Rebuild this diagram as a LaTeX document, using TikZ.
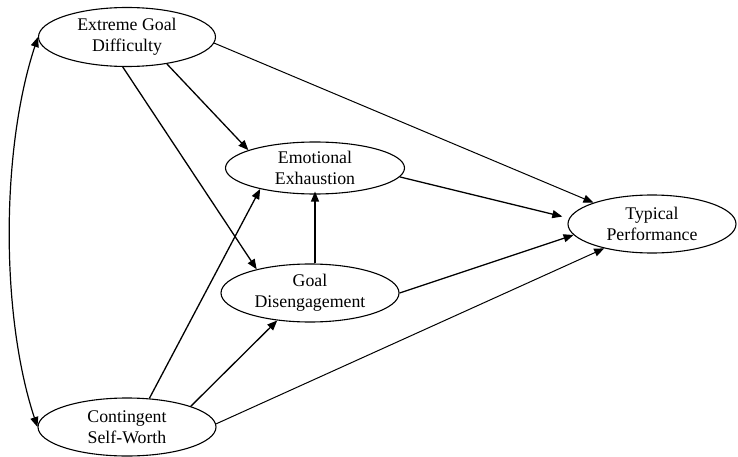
\documentclass[tikz,border=0pt]{standalone}
\usepackage{fontspec}
\setmainfont{Liberation Serif}
\usetikzlibrary{shapes.geometric,arrows.meta}
\begin{document}
\begin{tikzpicture}[x=1pt,y=-1pt,
  latent/.style={draw,ellipse,line width=1.1pt,inner sep=0pt,align=center,
     font=\fontsize{17.8}{21}\selectfont},
  arr/.style={line width=1.3pt,-{Triangle[length=10pt,width=8pt]}},
  thinarr/.style={line width=1pt,-{Triangle[length=10pt,width=8pt]}}]
\useasboundingbox (0,0) rectangle (738,457);
\node[latent,minimum width=177,minimum height=59] (EGD) at (127,37) {Extreme Goal\\Difficulty};
\node[latent,minimum width=179,minimum height=52] (EE) at (315,168) {Emotional\\Exhaustion};
\node[latent,minimum width=178,minimum height=58] (GD) at (310,293) {Goal\\Disengagement};
\node[latent,minimum width=168,minimum height=58] (TP) at (652,224) {Typical\\Performance};
\node[latent,minimum width=178,minimum height=58] (CSW) at (127,427) {Contingent\\Self-Worth};
\draw[arr] (EGD.-34) -- (EE.165);
\draw[arr] (EGD.-98) -- (GD.156);
\draw[thinarr] (EGD.-4) -- (TP.160);
\draw[arr,shorten >=7pt] (EE.-6) -- (TP.176);
\draw[arr] (GD.0) -- (TP.188);
\draw[arr] (GD.north -| EE.south) -- ([yshift=3]EE.south);
\draw[arr] (CSW.52) -- (EE.201);
\draw[arr] (CSW.18) -- (GD.-140);
\draw[thinarr] (CSW.2) -- (TP.-153);
\draw[line width=1.2pt,{Triangle[length=10pt,width=8pt]}-{Triangle[length=10pt,width=8pt]}]
  (EGD.west) .. controls +(-37,112) and +(-37,-112) .. (CSW.west);
\end{tikzpicture}
\end{document}
